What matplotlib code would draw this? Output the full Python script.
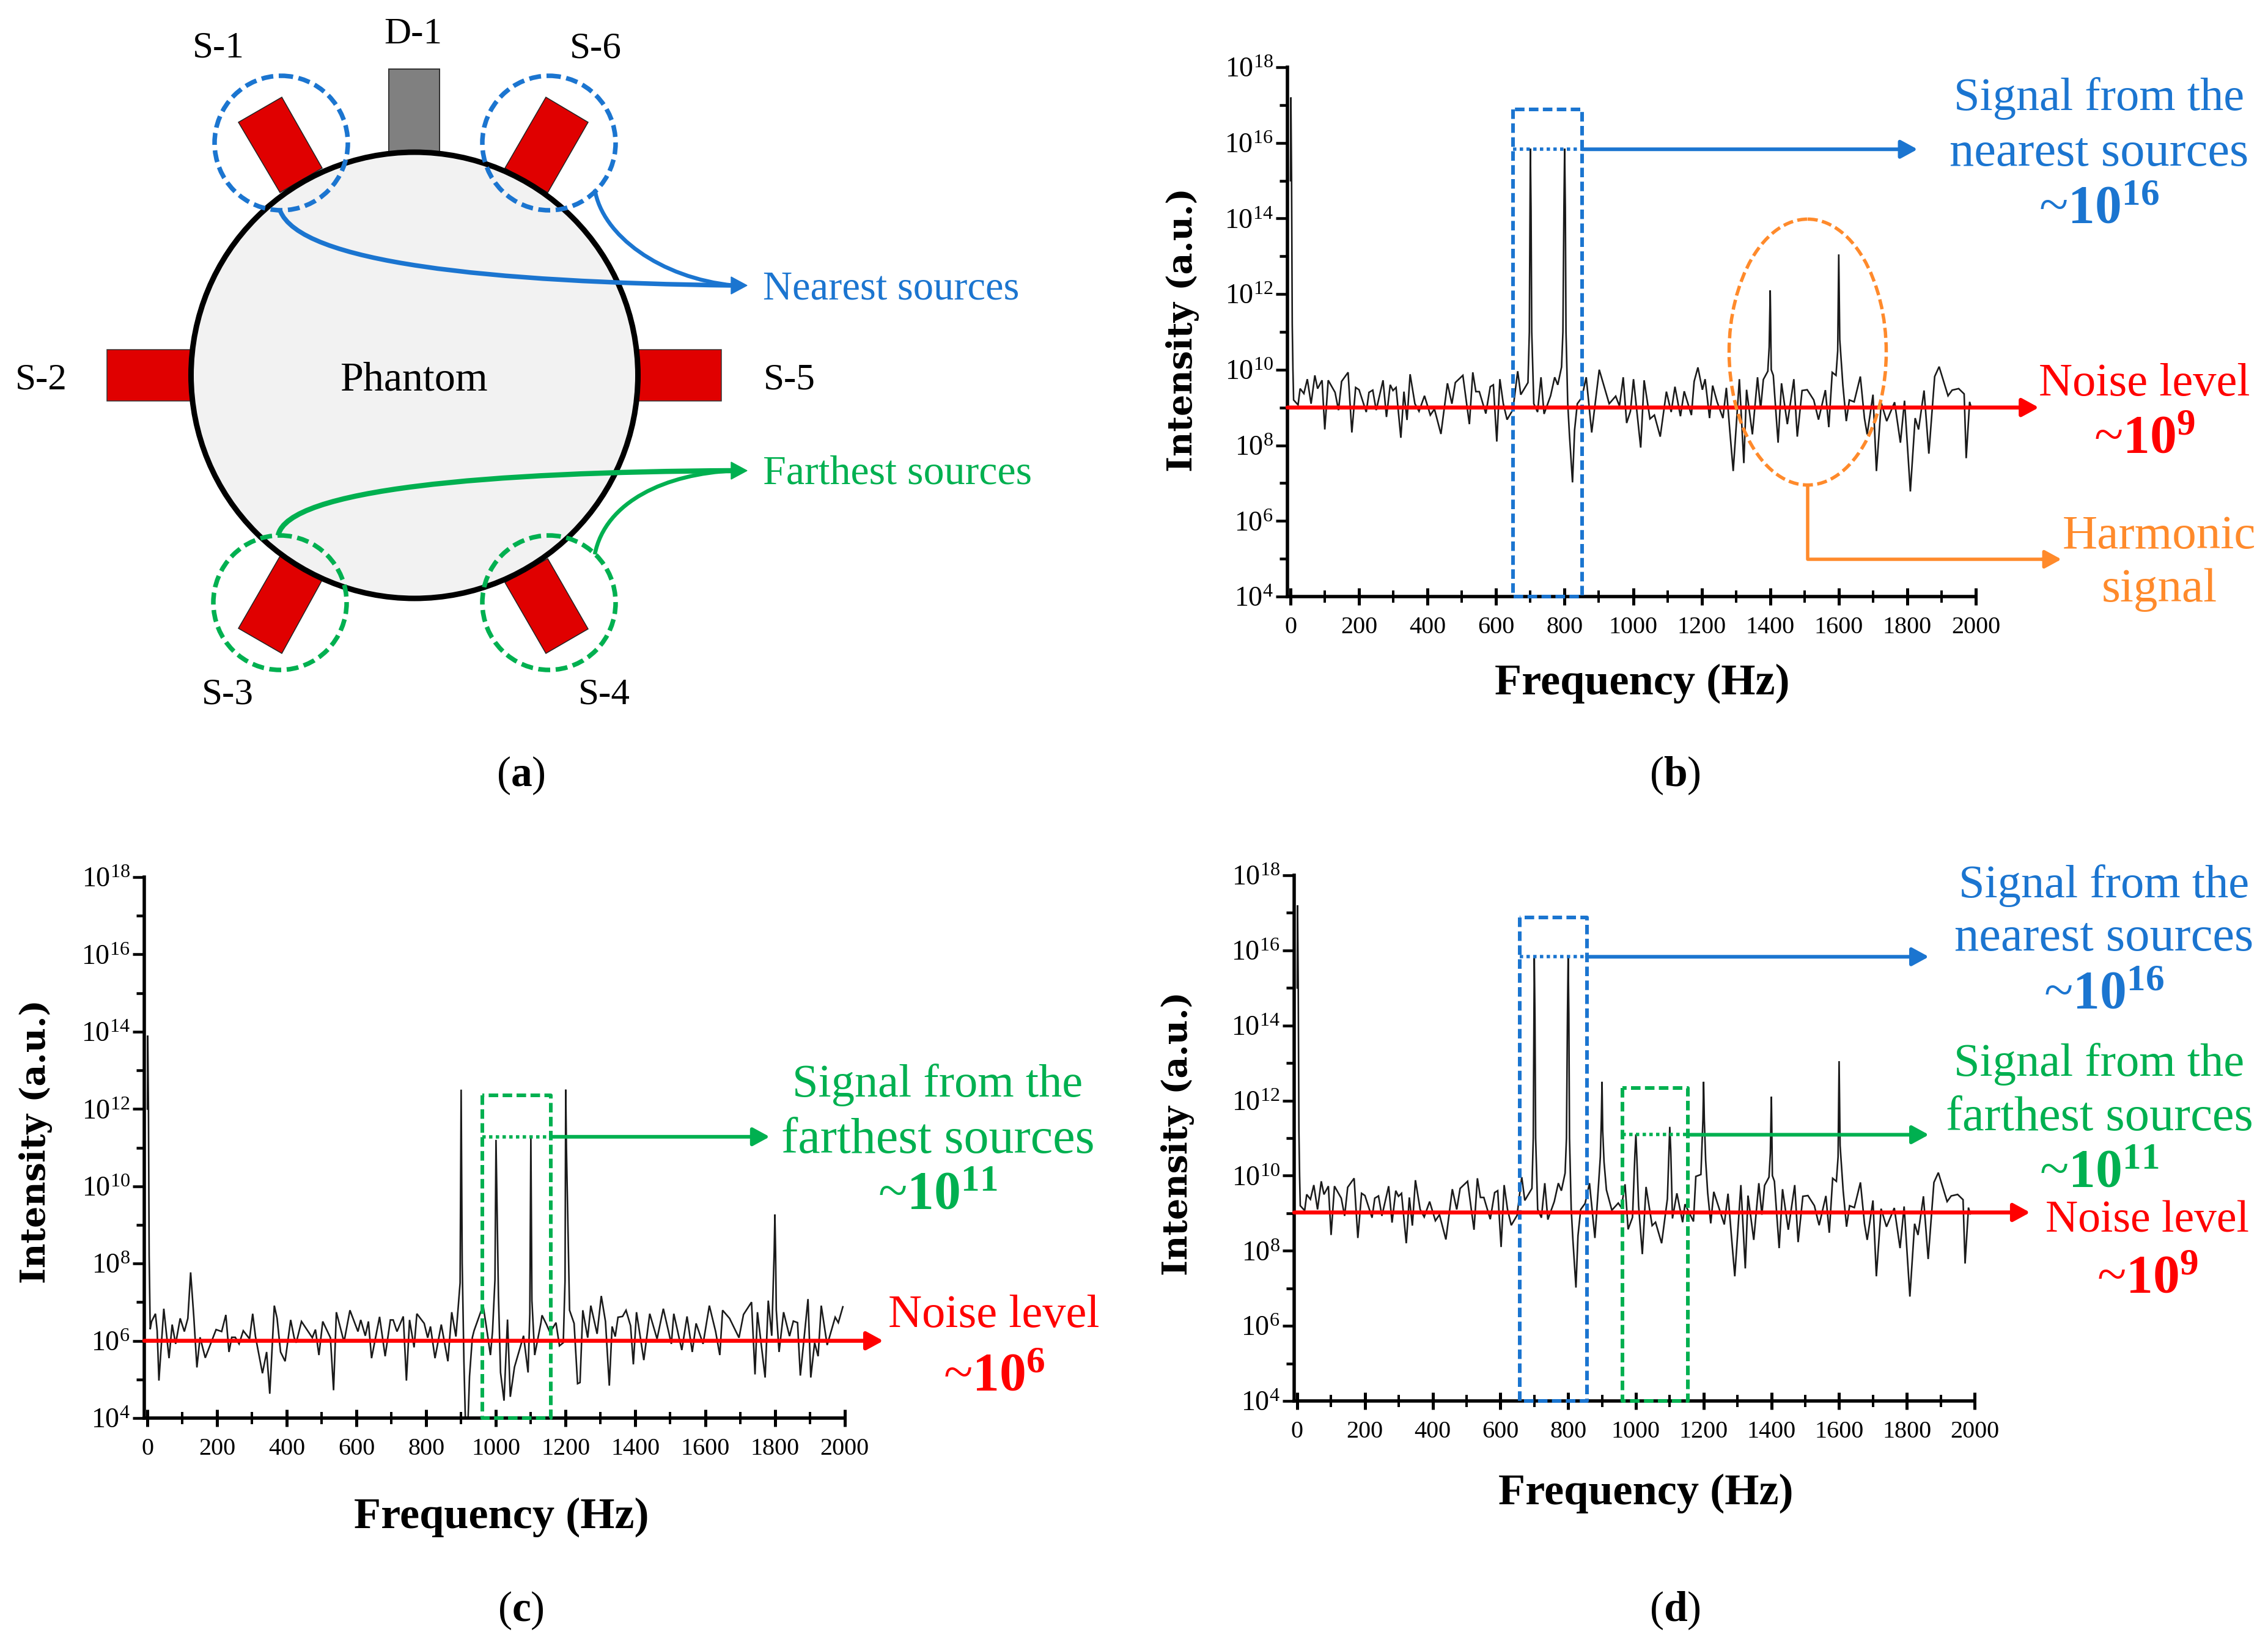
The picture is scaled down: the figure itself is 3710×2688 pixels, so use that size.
import numpy as np
import matplotlib
matplotlib.use("Agg")
import matplotlib.pyplot as plt
from matplotlib.patches import Ellipse, Circle, Polygon, Rectangle, PathPatch
from matplotlib.path import Path
from matplotlib.ticker import FixedLocator, NullFormatter, FuncFormatter

plt.rcParams['font.family'] = ['Liberation Serif', 'DejaVu Serif']
plt.rcParams['mathtext.fontset'] = 'custom'
plt.rcParams['mathtext.rm'] = 'Liberation Serif'
plt.rcParams['mathtext.bf'] = 'Liberation Serif:bold'
plt.rcParams['mathtext.it'] = 'Liberation Serif:italic'

# ---------- spectrum (b): frequency in Hz, log10 intensity ----------
freq_b = [0, 1, 3, 5, 7, 9, 22, 28, 39, 49, 60, 71, 79, 92, 100, 110, 130, 140, 149, 168, 179, 190, 200, 221, 229, 240,
          250, 270, 280, 291, 299, 308, 322, 331, 340, 349, 363, 375, 391, 408, 420, 439, 458, 471, 481, 503, 522, 532,
          541, 551, 570, 583, 592, 602, 611, 621, 632, 649, 663, 672, 693, 697, 699, 700, 702, 704, 710, 721, 731, 740,
          759, 771, 780, 791, 795, 798, 800, 802, 804, 809, 814, 823, 829, 837, 850, 863, 879, 901, 930, 949, 960, 971,
          981, 992, 1001, 1022, 1032, 1049, 1062, 1079, 1097, 1111, 1122, 1138, 1149, 1170, 1178, 1189, 1202, 1210, 1223,
          1232, 1245, 1262, 1272, 1282, 1292, 1310, 1323, 1331, 1348, 1363, 1372, 1380, 1393, 1397, 1399, 1400, 1401, 1403,
          1409, 1423, 1433, 1450, 1469, 1479, 1493, 1508, 1527, 1541, 1561, 1571, 1581, 1592, 1597, 1599, 1600, 1601, 1603,
          1612, 1622, 1631, 1645, 1663, 1675, 1683, 1700, 1710, 1724, 1740, 1763, 1780, 1792, 1809, 1823, 1833, 1849, 1863,
          1880, 1893, 1919, 1931, 1950, 1966, 1972, 1982, 1987]
log_b = [15.0, 17.2, 15.1, 11.2, 10.0, 9.2, 9.07, 9.5, 9.37, 9.75, 9.1, 9.85, 9.5, 9.72, 8.42, 9.72, 9.4, 8.93, 9.69, 9.93, 8.34, 9.53, 9.47, 8.88, 9.4, 9.46,
         8.93, 9.72, 8.75, 9.6, 9.45, 9.53, 8.2, 9.42, 8.67, 9.88, 9.1, 8.9, 9.31, 8.8, 8.96, 8.3, 9.64, 9.1, 9.66, 9.85, 8.56, 9.93,
         9.42, 9.42, 8.84, 9.55, 9.6, 8.1, 9.75, 9.1, 8.68, 8.94, 9.96, 9.34, 9.66, 11.0, 14.2, 15.85, 14.2, 11.0, 9.1, 8.88, 9.8, 8.83,
         9.31, 9.8, 9.6, 10.07, 11.0, 14.3, 15.85, 14.3, 11.0, 9.12, 8.29, 7.02, 8.4, 9.1, 9.26, 9.8, 8.34, 10.0, 9.1, 9.3, 9.04, 9.8,
         8.59, 8.9, 9.75, 7.94, 9.72, 8.7, 8.8, 8.23, 9.42, 8.88, 9.55, 8.77, 9.43, 8.8, 9.69, 10.06, 9.47, 9.75, 8.72,
         9.58, 9.15, 8.72, 9.52, 8.4, 7.32, 9.75, 7.53, 9.47, 8.29, 9.8, 8.96, 9.74, 9.96, 10.6, 11.6, 12.1, 11.5, 10.0,
         9.85, 8.07, 9.64, 8.56, 9.75, 8.23, 9.45, 9.47, 9.2, 8.68, 9.46, 8.48, 9.93, 9.85, 10.5, 12.2, 13.05, 12.3, 10.8,
         9.6, 8.64, 9.2, 9.15, 9.82, 8.72, 8.29, 9.34, 7.32, 9.12, 8.64, 9.14, 8.07, 9.18, 6.78, 8.72, 8.42, 9.45, 7.78,
         9.82, 10.08, 9.31, 9.46, 9.5, 9.36, 7.66, 9.15, 8.98]

# ---------- spectrum (c) ----------
freq_c = [0, 1, 3, 5, 8, 12, 23, 28, 33, 47, 62, 71, 81, 94, 106, 116, 124, 133, 142, 151, 166, 197, 213, 225, 234, 242, 252, 263, 275, 293, 302,
          310, 330, 342, 351, 364, 372, 382, 395, 411, 421, 427, 442, 473, 482, 492, 503, 525, 534, 542, 564, 581, 604, 612, 625, 634, 643, 666, 682,
          697, 705, 716, 734, 743, 752, 765, 773, 794, 804, 812, 825, 843, 862, 873, 885, 897, 899, 900, 901, 903, 908, 912, 920, 924, 932, 937, 963, 975,
          984, 990, 997, 1000, 1007, 1013, 1023, 1033, 1041, 1053, 1079, 1092, 1097, 1100, 1103, 1111, 1129, 1132, 1145, 1155, 1172, 1182, 1193, 1198, 1200, 1202,
          1211, 1224, 1234, 1241, 1249, 1263, 1272, 1290, 1302, 1314, 1325, 1333, 1342, 1350, 1363, 1373, 1386, 1394, 1403, 1424, 1441, 1462, 1480, 1503,
          1510, 1533, 1548, 1563, 1574, 1594, 1612, 1630, 1642, 1650, 1670, 1697, 1710, 1733, 1743, 1750, 1772, 1781, 1791, 1798, 1800, 1802, 1804, 1812,
          1825, 1842, 1853, 1865, 1873, 1895, 1903, 1914, 1924, 1933, 1950, 1973, 1982, 1995]
log_c = [12.0, 13.9, 12.0, 8.2, 6.3, 6.5, 6.7, 6.26, 4.97, 6.83, 5.55, 6.42, 5.92, 6.58, 6.24, 6.58, 7.77, 6.63, 5.31, 6.09, 5.56, 6.29, 6.24, 6.67, 5.71, 6.09, 6.09, 5.92, 6.26, 6.05, 6.7,
         6.11, 5.16, 5.71, 4.63, 6.91, 6.58, 5.71, 5.47, 6.54, 6.08, 5.95, 6.5, 6.08, 6.29, 5.63, 6.5, 6.08, 4.72, 6.74, 5.97, 6.79, 6.24, 6.54, 6.13, 6.5, 5.55, 6.62, 5.6,
         6.54, 6.54, 6.24, 6.63, 4.97, 6.54, 5.83, 6.7, 6.45, 6.08, 6.37, 5.55, 6.42, 5.47, 6.74, 6.11, 7.5, 11.0, 12.5, 11.0, 8.0, 5.45, 4.0, 4.0, 5.08, 6.08, 6.26, 6.92, 6.2,
         5.63, 6.24, 7.58, 11.2, 7.16, 5.18, 4.45, 6.55, 4.55, 5.32, 6.13, 5.18, 6.71, 11.3, 7.04, 5.63, 6.47, 6.66, 6.42, 6.21, 6.47, 5.87, 5.95, 7.55, 12.5, 11.0,
         6.79, 6.45, 4.89, 4.92, 6.79, 6.08, 6.91, 6.18, 7.16, 6.5, 4.84, 6.37, 6.11, 6.61, 6.63, 6.79, 6.39, 5.39, 6.74, 5.5, 6.7, 6.05, 6.83, 5.92,
         6.7, 5.76, 6.63, 5.71, 6.45, 5.92, 6.91, 6.24, 5.63, 6.79, 6.58, 6.08, 6.68, 7.0, 5.13, 6.74, 5.05, 7.04, 6.13, 8.3, 9.27, 8.3, 6.8, 5.71,
         6.74, 6.12, 6.51, 6.47, 5.1, 7.08, 5.05, 5.95, 5.6, 6.91, 5.89, 6.61, 6.47, 6.88]

# ---------- spectrum (d): same as (b) apart from this stretch ----------
freq_d_patch = [890, 895, 898, 900, 902, 906, 913, 929, 948, 957, 968, 977, 990, 997, 1000, 1003, 1008, 1019, 1030, 1048, 1058, 1076, 1093,
                1100, 1103, 1108, 1121, 1138, 1145, 1170, 1177, 1192, 1198, 1200, 1202, 1206, 1212, 1221, 1230, 1261]
log_d_patch = [9.8, 10.5, 11.5, 12.5, 11.2, 10.36, 9.62, 9.08, 9.27, 9.15, 9.77, 8.57, 8.89, 10.55, 11.1, 10.44, 9.2, 7.91, 9.7, 8.67, 8.76, 8.2, 9.38,
               11.3, 10.66, 8.86, 9.53, 8.76, 9.24, 8.78, 9.98, 10.03, 11.5, 12.5, 11.5, 10.41, 9.54, 8.73, 9.57, 8.7]

freq_b_arr = np.array(freq_b, float)
log_b_arr = np.array(log_b, float)
keep = (freq_b_arr < 885) | (freq_b_arr > 1268)
freq_d = np.concatenate([freq_b_arr[keep], freq_d_patch])
log_d = np.concatenate([log_b_arr[keep], log_d_patch])
order = np.argsort(freq_d)
freq_d, log_d = freq_d[order], log_d[order]

x_major = list(range(0, 2001, 200))
x_minor = list(range(100, 2000, 200))
y_major = [1e4, 1e6, 1e8, 1e10, 1e12, 1e14, 1e16, 1e18]
y_minor = [1e5, 1e7, 1e9, 1e11, 1e13, 1e15, 1e17]

BLUE = '#1B75D0'
GREEN = '#00B050'
RED = '#FF0000'
ORANGE = '#FF8A2B'
W, H = 3710, 2688
DPI = 100
PX = 72.0 / DPI

fig = plt.figure(figsize=(W / DPI, H / DPI), dpi=DPI, facecolor='white')


def spectrum_axes(left, right, top, bottom, x, logy):
    ax = fig.add_axes([left / W, 1 - bottom / H, (right - left) / W, (bottom - top) / H])
    ax.set_xlim(-9, 2000)
    ax.set_yscale('log')
    ax.set_ylim(1e4, 1e18)
    ax.patch.set_alpha(0)
    ax.plot(x, 10.0 ** np.asarray(logy), color='#1a1a1a', lw=2.6 * PX, solid_joinstyle='miter', clip_on=False, zorder=2)
    for s in ('top', 'right'):
        ax.spines[s].set_visible(False)
    for s in ('left', 'bottom'):
        ax.spines[s].set_linewidth(5.5 * PX)
    ax.xaxis.set_major_locator(FixedLocator(x_major))
    ax.xaxis.set_minor_locator(FixedLocator(x_minor))
    ax.xaxis.set_minor_formatter(NullFormatter())
    ax.set_xticklabels([str(v) for v in x_major], fontsize=29)
    ax.yaxis.set_major_locator(FixedLocator(y_major))
    ax.yaxis.set_minor_locator(FixedLocator(y_minor))
    ax.yaxis.set_minor_formatter(NullFormatter())
    ax.yaxis.set_major_formatter(FuncFormatter(lambda v, p: r'$\mathrm{10^{%d}}$' % round(np.log10(v))))
    ax.tick_params(axis='x', which='major', direction='inout', length=28 * PX, width=5 * PX, pad=13)
    ax.tick_params(axis='x', which='minor', direction='inout', length=20 * PX, width=4 * PX)
    ax.tick_params(axis='y', which='major', direction='out', length=19 * PX, width=4.5 * PX, pad=3, labelsize=33)
    ax.tick_params(axis='y', which='minor', direction='out', length=13 * PX, width=4.5 * PX)
    return ax


def hline_arrow(ax, x0, x1, level, color, lw_px=6):
    ax.annotate('', xy=(x1, level), xytext=(x0, level), annotation_clip=False, zorder=6,
                arrowprops=dict(arrowstyle='-|>,head_length=0.55,head_width=0.3', mutation_scale=30,
                                color=color, lw=lw_px * PX, shrinkA=0, shrinkB=0))


def box(ax, x0, x1, y0, y1, dotted, color):
    ax.plot([x0, x0, x1, x1, x0], [y1, y0, y0, y1, y1], color=color, lw=6 * PX, ls=(0, (2.6, 1.2)), clip_on=False, zorder=5)
    ax.plot([x0, x1], [dotted, dotted], color=color, lw=5.5 * PX, ls=(0, (1, 1)), clip_on=False, zorder=5)


ax_b = spectrum_axes(2106, 3232, 110, 976, freq_b, log_b)
ax_c = spectrum_axes(236, 1381.6, 1435, 2320, freq_c, log_c)
ax_d = spectrum_axes(2117, 3230, 1432, 2292, freq_d, log_d)

box(ax_b, 649, 851, 1e4, 10 ** 16.89, 10 ** 15.83, BLUE)
hline_arrow(ax_b, 851, 1830, 10 ** 15.83, BLUE)
hline_arrow(ax_b, -9, 2184, 1e9, RED, 6.5)

box(ax_c, 960, 1157, 1e4, 10 ** 12.36, 10 ** 11.28, GREEN)
hline_arrow(ax_c, 1157, 1785, 10 ** 11.28, GREEN)
hline_arrow(ax_c, -9, 2111, 1e6, RED, 6.5)

box(ax_d, 657, 855, 1e4, 10 ** 16.87, 10 ** 15.83, BLUE)
hline_arrow(ax_d, 855, 1865, 10 ** 15.83, BLUE)
box(ax_d, 960, 1154, 1e4, 10 ** 12.34, 10 ** 11.09, GREEN)
hline_arrow(ax_d, 1154, 1865, 10 ** 11.09, GREEN)
hline_arrow(ax_d, -9, 2164, 10 ** 9.02, RED, 6.5)

# ---------- overlay in picture pixels ----------
ov = fig.add_axes([0, 0, 1, 1], zorder=10)
ov.set_xlim(0, W)
ov.set_ylim(H, 0)
ov.axis('off')
ov.patch.set_alpha(0)


def T(x, y, s, size=55, color='black', **kw):
    kw.setdefault('ha', 'center')
    kw.setdefault('va', 'center')
    dy = 8 if '$' in s and '~' in s else 6
    ov.text(x, y + dy, s, fontsize=size, color=color, **kw)


# orange ellipse and connector of (b)
ov.add_patch(Ellipse((2957, 576), 257, 435, fill=False, ec=ORANGE, lw=5.5 * PX, ls=(0, (3.0, 1.3))))
ov.plot([2957, 2957, 3345], [794, 915, 915], color=ORANGE, lw=5.5 * PX)
ov.annotate('', xy=(3372, 915), xytext=(3340, 915),
            arrowprops=dict(arrowstyle='-|>,head_length=0.55,head_width=0.3', mutation_scale=30, color=ORANGE,
                            lw=5.5 * PX, shrinkA=0, shrinkB=0))

# schematic (a)
for pts in ([(461, 159), (390, 200), (458, 315), (527, 275)],
            [(893, 159), (962, 200), (896, 315), (826, 275)],
            [(458, 910), (527, 949), (461, 1069), (390, 1028)],
            [(896, 914), (826, 953), (893, 1069), (962, 1029)]):
    ov.add_patch(Polygon(pts, closed=True, fc='#E00000', ec='#222222', lw=1.5 * PX, zorder=1))
ov.add_patch(Rectangle((175, 572), 145, 84, fc='#E00000', ec='#333333', lw=1.5 * PX, zorder=1))
ov.add_patch(Rectangle((1035, 572), 145, 84, fc='#E00000', ec='#333333', lw=1.5 * PX, zorder=1))
ov.add_patch(Rectangle((636, 113), 83, 145, fc='#808080', ec='#333333', lw=2 * PX, zorder=1))
ov.add_patch(Ellipse((678, 614), 731, 730, fc='#F2F2F2', ec='black', lw=9 * PX, zorder=2))
for (cx, cy), c in (((460, 234), BLUE), ((898, 234), BLUE), ((458, 986), GREEN), ((898, 986), GREEN)):
    ov.add_patch(Ellipse((cx, cy), 218, 220, fill=False, ec=c, lw=7.5 * PX, ls=(0, (2.6, 1.2)), zorder=3))


def curve(p0, c1, c2, p3, color, lw):
    ov.add_patch(PathPatch(Path([p0, c1, c2, p3], [Path.MOVETO, Path.CURVE4, Path.CURVE4, Path.CURVE4]),
                           fc='none', ec=color, lw=lw * PX, zorder=4))


curve((458, 344), (490, 430), (800, 462), (1200, 467), BLUE, 7.5)
curve((973, 310), (985, 385), (1080, 455), (1200, 467), BLUE, 6.5)
curve((455, 876), (470, 800), (800, 772), (1200, 770), GREEN, 8.5)
curve((973, 907), (990, 820), (1090, 775), (1200, 770), GREEN, 6.5)
ov.add_patch(Polygon([(1196, 453), (1222, 467), (1196, 481)], closed=True, fc=BLUE, ec=BLUE, zorder=5))
ov.add_patch(Polygon([(1196, 756), (1222, 770), (1196, 784)], closed=True, fc=GREEN, ec=GREEN, zorder=5))

for x, y, s in ((357, 73, 'S-1'), (676, 50, 'D-1'), (974, 74, 'S-6'), (67, 616, 'S-2'), (1291, 616, 'S-5'),
                (372, 1131, 'S-3'), (988, 1131, 'S-4')):
    T(x, y, s, size=44, zorder=6)
T(677, 616, 'Phantom', size=49, zorder=6)
T(1248, 467, 'Nearest sources', size=48, color=BLUE, ha='left')
T(1248, 769, 'Farthest sources', size=49, color=GREEN, ha='left')

# panel (b) texts
T(3434, 155, 'Signal from the', color=BLUE)
T(3434, 246, 'nearest sources', size=58, color=BLUE)
T(3434, 334, r'~$\mathbf{10^{16}}$', size=63, color=BLUE)
T(3508, 622, 'Noise level', color=RED)
T(3508, 710, r'~$\mathbf{10^{9}}$', size=63, color=RED)
T(3532, 872, 'Harmonic', size=57, color=ORANGE)
T(3532, 959, 'signal', size=57, color=ORANGE)

# panel (c) texts
T(1534, 1769, 'Signal from the', color=GREEN)
T(1534, 1860, 'farthest sources', size=59, color=GREEN)
T(1534, 1948, r'~$\mathbf{10^{11}}$', size=63, color=GREEN)
T(1626, 2146, 'Noise level', color=RED)
T(1626, 2244, r'~$\mathbf{10^{6}}$', size=63, color=RED)

# panel (d) texts
T(3442, 1443, 'Signal from the', color=BLUE)
T(3442, 1530, 'nearest sources', size=58, color=BLUE)
T(3442, 1619, r'~$\mathbf{10^{16}}$', size=63, color=BLUE)
T(3434, 1735, 'Signal from the', color=GREEN)
T(3434, 1823, 'farthest sources', size=58, color=GREEN)
T(3434, 1912, r'~$\mathbf{10^{11}}$', size=63, color=GREEN)
T(3513, 1991, 'Noise level', size=53, color=RED)
T(3513, 2084, r'~$\mathbf{10^{9}}$', size=63, color=RED)

# axis titles
for x, y in ((2686, 1112), (820, 2476), (2692, 2437)):
    T(x, y, 'Frequency (Hz)', size=52, fontweight='bold')
for x, y in ((1935, 540), (59, 1868), (1927, 1855)):
    ov.text(x, y, 'Intensity (a.u.)', fontsize=40, family='DejaVu Serif', fontweight='bold',
            rotation=90, ha='center', va='center')

# panel letters
for x, y, s in ((852, 1263, 'a'), (2740, 1263, 'b'), (852, 2629, 'c'), (2740, 2629, 'd')):
    T(x, y, r'($\mathbf{%s}$)' % s, size=50)

fig.savefig('out.png', dpi=DPI, facecolor='white')
